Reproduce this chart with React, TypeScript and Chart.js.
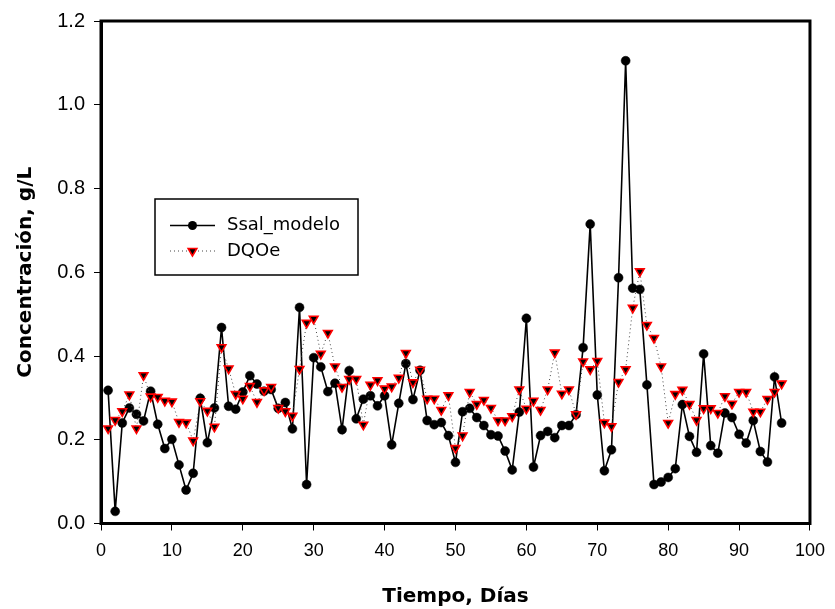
import React, { useEffect, useRef } from "react";
import { Chart, registerables } from "chart.js";

Chart.register(...registerables);

const days = [
  1, 2, 3, 4, 5, 6, 7, 8, 9, 10, 11, 12, 13, 14, 15, 16, 17, 18, 19, 20,
  21, 22, 23, 24, 25, 26, 27, 28, 29, 30, 31, 32, 33, 34, 35, 36, 37, 38, 39, 40,
  41, 42, 43, 44, 45, 46, 47, 48, 49, 50, 51, 52, 53, 54, 55, 56, 57, 58, 59, 60,
  61, 62, 63, 64, 65, 66, 67, 68, 69, 70, 71, 72, 73, 74, 75, 76, 77, 78, 79, 80,
  81, 82, 83, 84, 85, 86, 87, 88, 89, 90, 91, 92, 93, 94, 95, 96,
];

const ssalModelo = [
  0.318, 0.029, 0.240, 0.276, 0.261, 0.245, 0.316, 0.237, 0.179, 0.201,
  0.140, 0.080, 0.120, 0.299, 0.193, 0.276, 0.468, 0.280, 0.273, 0.314,
  0.353, 0.333, 0.316, 0.320, 0.275, 0.289, 0.226, 0.516, 0.093, 0.396,
  0.374, 0.315, 0.335, 0.224, 0.365, 0.250, 0.297, 0.305, 0.281, 0.305,
  0.188, 0.287, 0.382, 0.296, 0.366, 0.246, 0.236, 0.241, 0.210, 0.146,
  0.267, 0.275, 0.253, 0.234, 0.212, 0.209, 0.173, 0.128, 0.266, 0.490,
  0.135, 0.210, 0.220, 0.205, 0.234, 0.234, 0.260, 0.420, 0.715, 0.307,
  0.126, 0.176, 0.587, 1.105, 0.562, 0.559, 0.331, 0.093, 0.099, 0.110,
  0.131, 0.284, 0.208, 0.170, 0.405, 0.186, 0.168, 0.264, 0.253, 0.213,
  0.192, 0.246, 0.172, 0.147, 0.350, 0.240,
];

const dqoe = [
  0.227, 0.247, 0.268, 0.308, 0.227, 0.354, 0.303, 0.302, 0.293, 0.291,
  0.242, 0.241, 0.198, 0.292, 0.269, 0.231, 0.421, 0.370, 0.309, 0.298,
  0.328, 0.290, 0.318, 0.326, 0.276, 0.268, 0.257, 0.369, 0.479, 0.489,
  0.405, 0.455, 0.375, 0.326, 0.345, 0.345, 0.236, 0.331, 0.342, 0.322,
  0.327, 0.348, 0.407, 0.337, 0.367, 0.298, 0.298, 0.271, 0.306, 0.180,
  0.210, 0.314, 0.285, 0.295, 0.276, 0.246, 0.246, 0.256, 0.320, 0.274,
  0.293, 0.271, 0.320, 0.408, 0.310, 0.320, 0.261, 0.387, 0.368, 0.388,
  0.241, 0.232, 0.338, 0.368, 0.515, 0.602, 0.474, 0.443, 0.375, 0.240,
  0.309, 0.319, 0.285, 0.247, 0.275, 0.275, 0.264, 0.304, 0.286, 0.314,
  0.314, 0.267, 0.267, 0.297, 0.314, 0.334,
];

const seriesLabels = ["Ssal_modelo", "DQOe"];
const xTitle = "Tiempo, Días";
const yTitle = "Concentración, g/L";

const W = 835;
const H = 609;

const frameAndLegend = {
  id: "frameAndLegend",
  afterDraw(chart: any) {
    const { ctx, chartArea } = chart;
    const { left, top, right, bottom } = chartArea;
    ctx.save();
    // full frame
    ctx.strokeStyle = "#000";
    ctx.lineWidth = 3;
    ctx.strokeRect(left, top, right - left, bottom - top);

    // legend box
    const bx = left + 54;
    const by = top + 178;
    const bw = 203;
    const bh = 76;
    ctx.fillStyle = "#fff";
    ctx.fillRect(bx, by, bw, bh);
    ctx.lineWidth = 1.5;
    ctx.strokeStyle = "#000";
    ctx.strokeRect(bx, by, bw, bh);

    const lx1 = bx + 15;
    const lx2 = bx + 60;
    const mx = (lx1 + lx2) / 2;
    const r1 = by + 26.5;
    const r2 = by + 52;

    // Ssal row
    ctx.beginPath();
    ctx.lineWidth = 1.6;
    ctx.setLineDash([]);
    ctx.moveTo(lx1, r1);
    ctx.lineTo(lx2, r1);
    ctx.stroke();
    ctx.beginPath();
    ctx.fillStyle = "#000";
    ctx.arc(mx, r1, 4.5, 0, Math.PI * 2);
    ctx.fill();

    // DQOe row
    ctx.beginPath();
    ctx.lineWidth = 1;
    ctx.strokeStyle = "#444";
    ctx.setLineDash([1, 3]);
    ctx.moveTo(lx1, r2);
    ctx.lineTo(lx2, r2);
    ctx.stroke();
    ctx.setLineDash([]);
    const rr = 5;
    ctx.beginPath();
    ctx.moveTo(mx, r2 + rr);
    ctx.lineTo(mx - rr * 0.866, r2 - rr / 2);
    ctx.lineTo(mx + rr * 0.866, r2 - rr / 2);
    ctx.closePath();
    ctx.fillStyle = "#000";
    ctx.fill();
    ctx.strokeStyle = "#ff0000";
    ctx.lineWidth = 1.6;
    ctx.stroke();

    ctx.fillStyle = "#000";
    ctx.font = "18px 'DejaVu Sans'";
    ctx.textBaseline = "middle";
    ctx.textAlign = "left";
    ctx.fillText(seriesLabels[0], bx + 72, r1);
    ctx.fillText(seriesLabels[1], bx + 72, r2);
    ctx.restore();
  },
};

export default function App() {
  const ref = useRef<HTMLCanvasElement | null>(null);

  useEffect(() => {
    document.body.style.margin = "0";
    document.body.style.overflow = "hidden";
    const canvas = ref.current;
    if (!canvas) return;

    const chart = new Chart(canvas, {
      type: "line",
      data: {
        datasets: [
          {
            label: seriesLabels[0],
            data: days.map((d, i) => ({ x: d, y: ssalModelo[i] })),
            borderColor: "#000",
            borderWidth: 1.6,
            pointStyle: "circle",
            pointRadius: 4.5,
            pointBackgroundColor: "#000",
            pointBorderColor: "#000",
            pointBorderWidth: 0.5,
            tension: 0,
            order: 1,
          },
          {
            label: seriesLabels[1],
            data: days.map((d, i) => ({ x: d, y: dqoe[i] })),
            borderColor: "#444",
            borderWidth: 1,
            borderDash: [1, 3],
            pointStyle: "triangle",
            pointRotation: 180,
            pointRadius: 5,
            pointBackgroundColor: "#000",
            pointBorderColor: "#ff0000",
            pointBorderWidth: 1.6,
            tension: 0,
            order: 0,
          },
        ],
      },
      options: {
        animation: false,
        responsive: false,
        maintainAspectRatio: false,
        events: [],
        layout: { padding: { left: 0, top: 18, right: 19, bottom: 0 } },
        plugins: {
          legend: { display: false },
          tooltip: { enabled: false },
        },
        scales: {
          x: {
            type: "linear",
            min: 0,
            max: 100,
            afterFit: (s: any) => {
              s.height = H - 523.5;
            },
            ticks: {
              stepSize: 10,
              color: "#000",
              padding: 10,
              maxRotation: 0,
              font: { family: "'Liberation Sans', Arial", size: 18 },
            },
            grid: {
              display: true,
              drawOnChartArea: false,
              drawTicks: true,
              tickLength: 7,
              color: "#000",
              lineWidth: 1,
            },
            border: { display: true, color: "#000", width: 3 },
            title: {
              display: true,
              text: xTitle,
              color: "#000",
              font: { family: "'DejaVu Sans'", size: 20, weight: "bold" },
              padding: { top: 18, bottom: 0 },
            },
          },
          y: {
            type: "linear",
            min: 0,
            max: 1.2,
            afterFit: (s: any) => {
              s.width = 101;
            },
            ticks: {
              stepSize: 0.2,
              color: "#000",
              padding: 9,
              font: { family: "'Liberation Sans', Arial", size: 20 },
              callback: (v: any) => Number(v).toFixed(1),
            },
            grid: {
              display: true,
              drawOnChartArea: false,
              drawTicks: true,
              tickLength: 7,
              color: "#000",
              lineWidth: 1,
            },
            border: { display: true, color: "#000", width: 3 },
            title: {
              display: true,
              text: yTitle,
              color: "#000",
              font: { family: "'DejaVu Sans'", size: 20, weight: "bold" },
              padding: { top: 14, bottom: 0 },
            },
          },
        },
      },
      plugins: [frameAndLegend],
    });

    return () => chart.destroy();
  }, []);

  return (
    <div style={{ width: W, height: H }}>
      <canvas ref={ref} width={W} height={H} style={{ display: "block" }} />
    </div>
  );
}
